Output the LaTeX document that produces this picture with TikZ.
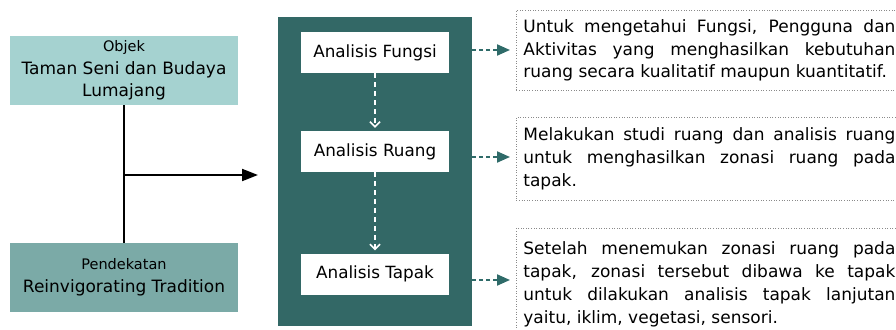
\documentclass[tikz,border=0pt]{standalone}
\usepackage{fontspec}
\setmainfont{DejaVu Sans}
\usetikzlibrary{arrows.meta}
\definecolor{lightteal}{HTML}{A5D2D0}
\definecolor{midteal}{HTML}{7BAAA7}
\definecolor{darkteal}{HTML}{336866}
\definecolor{arrteal}{HTML}{2F6B69}
\definecolor{dotgray}{HTML}{8A8A8A}
\begin{document}
\begin{tikzpicture}[x=1pt,y=-1pt,
  leftbox/.style={minimum width=228pt, minimum height=69pt, inner sep=0pt, align=center, text=black, font=\fontsize{17}{22.5}\selectfont},
  smalllabel/.style={font=\fontsize{14.5}{16}\selectfont},
  stepbox/.style={fill=white, minimum width=148pt, minimum height=41pt, inner sep=0pt, font=\fontsize{16.8}{20}\selectfont},
  descbox/.style={draw=dotgray, line width=0.8pt, dash pattern=on 1pt off 1.6pt, anchor=north west,
     text width=372pt, inner xsep=7pt, inner ysep=0pt, align=justify, font=\fontsize{17}{22.8}\selectfont},
  whitearrow/.style={draw=white, line width=2.2pt, dash pattern=on 5pt off 4pt, -{Straight Barb[length=5pt,width=10pt,line width=1.6pt]}, shorten >=3pt},
  tealarrow/.style={draw=arrteal, line width=2pt, dash pattern=on 4pt off 3pt, -{Triangle[length=13pt,width=11pt]}},
  blackarrow/.style={draw=black, line width=2pt, -{Triangle[length=16pt,width=12pt]}}
]
\useasboundingbox (0,0) rectangle (896,329);
\clip (0,0) rectangle (896,329);

% left boxes
\node[leftbox, fill=lightteal] (objek) at (124,70.5)
  {{\fontsize{14.5}{16}\selectfont Objek}\\Taman Seni dan Budaya\\Lumajang};
\node[leftbox, fill=midteal] (pend) at (124,277.5)
  {{\fontsize{14.5}{16}\selectfont Pendekatan}\\Reinvigorating Tradition};

% panel
\node[fill=darkteal, minimum width=194pt, minimum height=309pt, inner sep=0pt, anchor=north west] (panel) at (278,17) {};

\node[stepbox] (fungsi) at (375,52.5) {Analisis Fungsi};
\node[stepbox] (ruang) at (375,151.5) {Analisis Ruang};
\node[stepbox] (tapak) at (375,274) {Analisis Tapak};

% connectors left
\coordinate (junction) at (124,175);
\draw[line width=2pt] (objek.south) -- (pend.north);
\draw[blackarrow, shorten >=20pt] (junction) -- (junction -| panel.west);

% white dashed arrows
\draw[whitearrow] (fungsi.south) -- (ruang.north);
\draw[whitearrow] (ruang.south) -- (tapak.north);

% description boxes
\node[descbox, minimum height=80pt] (d1) at (516,10)
  {Untuk mengetahui Fungsi, Pengguna dan\linebreak Aktivitas yang menghasilkan kebutuhan\linebreak ruang secara kualitatif maupun kuantitatif.};
\node[descbox, minimum height=83pt] (d2) at (516,117)
  {Melakukan studi ruang dan analisis ruang\linebreak untuk menghasilkan zonasi ruang pada\linebreak tapak.};
\node[descbox, minimum height=112pt] (d3) at (516,228)
  {Setelah menemukan zonasi ruang pada\linebreak tapak, zonasi tersebut dibawa ke tapak\linebreak untuk dilakukan analisis tapak lanjutan\linebreak yaitu, iklim, vegetasi, sensori.};

% teal arrows
\coordinate (a1) at (472,50);
\coordinate (a2) at (472,157);
\coordinate (a3) at (472,280);
\draw[tealarrow, shorten >=6pt] (a1) -- (a1 -| d1.west);
\draw[tealarrow, shorten >=6pt] (a2) -- (a2 -| d2.west);
\draw[tealarrow, shorten >=6pt] (a3) -- (a3 -| d3.west);
\end{tikzpicture}
\end{document}
